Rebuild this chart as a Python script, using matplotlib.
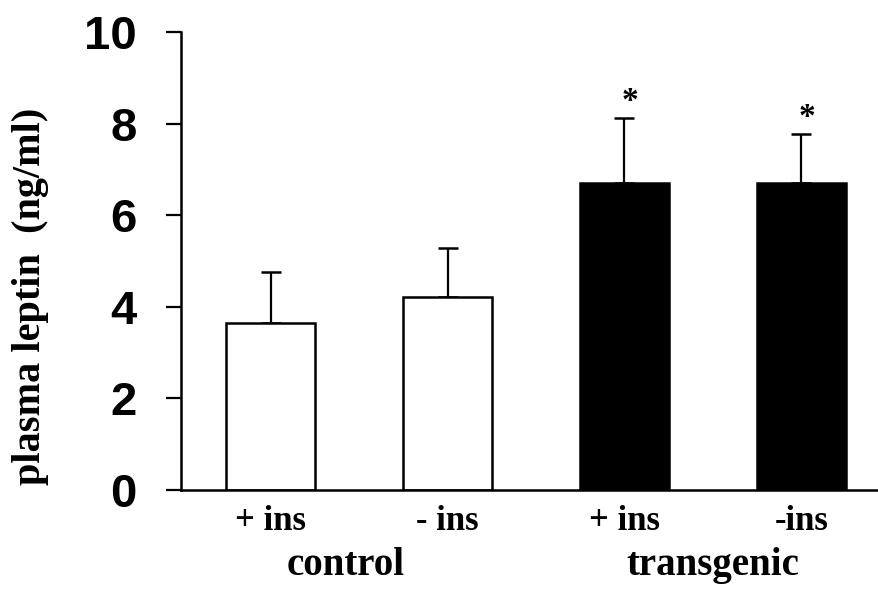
import matplotlib
matplotlib.use("Agg")
from matplotlib import pyplot as plt

# data
conditions = ["+ ins", "- ins", "+ ins", "-ins"]
groups = ["control", "transgenic"]
leptin = [3.65, 4.22, 6.70, 6.71]
sem = [1.11, 1.06, 1.42, 1.07]
colors = ["white", "white", "black", "black"]
significant = [False, False, True, True]

fig = plt.figure(figsize=(8.79, 5.95), dpi=100)
ax = fig.add_axes([0.2059, 0.1765, 0.7941, 0.7697])

x = list(range(len(leptin)))
ax.bar(x, leptin, width=0.504, color=colors, edgecolor="black", linewidth=1.8, zorder=2)
ax.errorbar(x, leptin, yerr=[[0] * len(sem), sem], fmt="none", ecolor="black",
            elinewidth=1.6, capsize=7.5, capthick=1.8, zorder=1)

for xi, h, e, sig in zip(x, leptin, sem, significant):
    if sig:
        ax.text(xi + 0.03, h + e + 0.02, "*", ha="center", va="bottom",
                family="Liberation Serif", fontweight="bold", fontsize=24)

ax.set_xlim(-0.509, 3.44)
ax.set_ylim(0, 10)
ax.set_yticks([0, 2, 4, 6, 8, 10])
ax.set_yticklabels(["0", "2", "4", "6", "8", "10"], family="Liberation Sans",
                   fontweight="bold", fontsize=34)
ax.tick_params(axis="y", direction="out", length=11, width=1.6, pad=21)

ax.set_xticks(x)
ax.set_xticklabels(conditions, family="Liberation Serif", fontweight="bold", fontsize=25)
ax.tick_params(axis="x", length=0, pad=11)

ax.text(0.42, -0.165, groups[0], transform=ax.get_xaxis_transform(), ha="center",
        va="center", family="Liberation Serif", fontweight="bold", fontsize=28)
ax.text(2.5, -0.165, groups[1], transform=ax.get_xaxis_transform(), ha="center",
        va="center", family="Liberation Serif", fontweight="bold", fontsize=28)

fig.text(31 / 879, 1 - 296 / 595, "plasma leptin  (ng/ml)", rotation=90,
         ha="center", va="center", family="Liberation Serif", fontweight="bold",
         fontsize=29)

ax.spines["top"].set_visible(False)
ax.spines["right"].set_visible(False)
ax.spines["left"].set_linewidth(1.8)
ax.spines["bottom"].set_linewidth(1.8)

fig.savefig("out.png", dpi=100)
